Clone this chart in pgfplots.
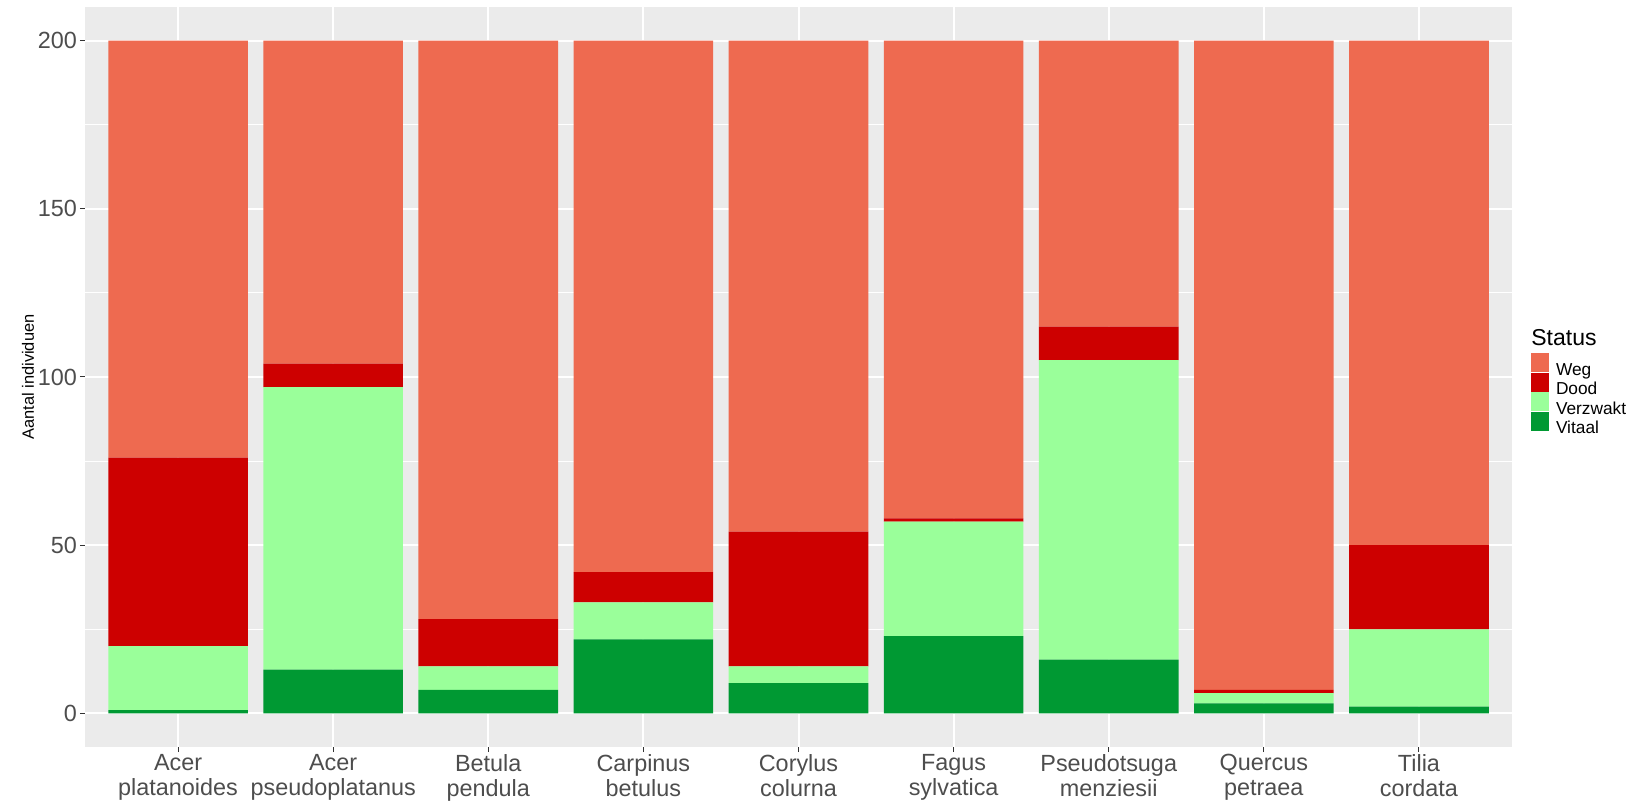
\documentclass[border=0pt]{standalone}
\usepackage{fontspec}
\setmainfont{Liberation Sans}
\usepackage{pgfplots}
\usepackage{pgfplotstable}
\pgfplotsset{compat=1.18}

\definecolor{weg}{HTML}{EE6A50}
\definecolor{dood}{HTML}{CD0000}
\definecolor{verzwakt}{HTML}{9AFF9A}
\definecolor{vitaal}{HTML}{009933}
\definecolor{panel}{HTML}{EBEBEB}
\definecolor{ticktext}{HTML}{4D4D4D}
\definecolor{tickline}{HTML}{333333}

% counts per species, stacked bottom to top: Vitaal, Verzwakt, Dood, Weg
\pgfplotstableread{
x vitaal verzwakt dood weg
1 1  19 56 124
2 13 84 7  96
3 7  7  14 172
4 22 11 9  158
5 9  5  40 146
6 23 34 1  142
7 16 89 10 85
8 3  3  1  193
9 2  23 25 150
}\status

\begin{document}
\begin{tikzpicture}
\begin{axis}[
    name=ax,
    scale only axis,
    width=713.5pt, height=370pt,
    xmin=0.4, xmax=9.6,
    ymin=-10, ymax=210,
    ybar stacked,
    bar width=0.9,
    axis background/.style={fill=panel},
    axis line style={draw=none},
    clip=false,
    xmajorgrids, ymajorgrids, yminorgrids,
    major grid style={white, line width=1pt},
    minor grid style={white, line width=0.5pt},
    xtick={1,...,9},
    xticklabels={{Acer\\platanoides},{Acer\\pseudoplatanus},{Betula\\pendula},
        {Carpinus\\betulus},{Corylus\\colurna},{Fagus\\sylvatica},
        {Pseudotsuga\\menziesii},{Quercus\\petraea},{Tilia\\cordata}},
    ytick={0,50,100,150,200},
    minor ytick={25,75,125,175},
    tick pos=left,
    tick align=outside,
    major tick length=2.5pt,
    minor tick length=0pt,
    tick style={color=tickline, line width=0.5pt},
    /pgf/number format/assume math mode=true,
    tick label style={text=ticktext, font=\fontsize{11.7}{12.5}\selectfont},
    xticklabel style={align=center, yshift=2.5pt},
    yticklabel style={xshift=2pt},
    ylabel={Aantal individuen},
    ylabel style={at={(rel axis cs:-0.04,0.5)}, anchor=center,
        font=\fontsize{8.2}{9}\selectfont, text=black},
    reverse legend,
    legend image code/.code={\fill[#1] (0pt,-1.7pt) rectangle (9pt,7.9pt);},
    legend style={at={(rel axis cs:1.0133,0.5324)}, anchor=north west,
        draw=none, fill=none, inner sep=0pt, outer sep=0pt,
        row sep=-2.9pt, column sep=3.5pt,
        font=\fontsize{8.65}{9.6}\selectfont,
        nodes={inner sep=0pt, text height=7.9pt, text depth=1.7pt}},
    legend cell align=left,
]
\addplot[fill=vitaal, draw=none] table[x=x, y=vitaal]{\status};
\addlegendentry{Vitaal}
\addplot[fill=verzwakt, draw=none] table[x=x, y=verzwakt]{\status};
\addlegendentry{Verzwakt}
\addplot[fill=dood, draw=none] table[x=x, y=dood]{\status};
\addlegendentry{Dood}
\addplot[fill=weg, draw=none] table[x=x, y=weg]{\status};
\addlegendentry{Weg}
\node[anchor=base west, inner sep=0pt, font=\fontsize{11.5}{13}\selectfont]
    at (rel axis cs:1.0133,0.543) {Status};
\end{axis}
\pgfresetboundingbox
\path ([shift={(-42.5pt,-28pt)}]ax.south west) rectangle ([shift={(63pt,3.5pt)}]ax.north east);
\end{tikzpicture}
\end{document}
